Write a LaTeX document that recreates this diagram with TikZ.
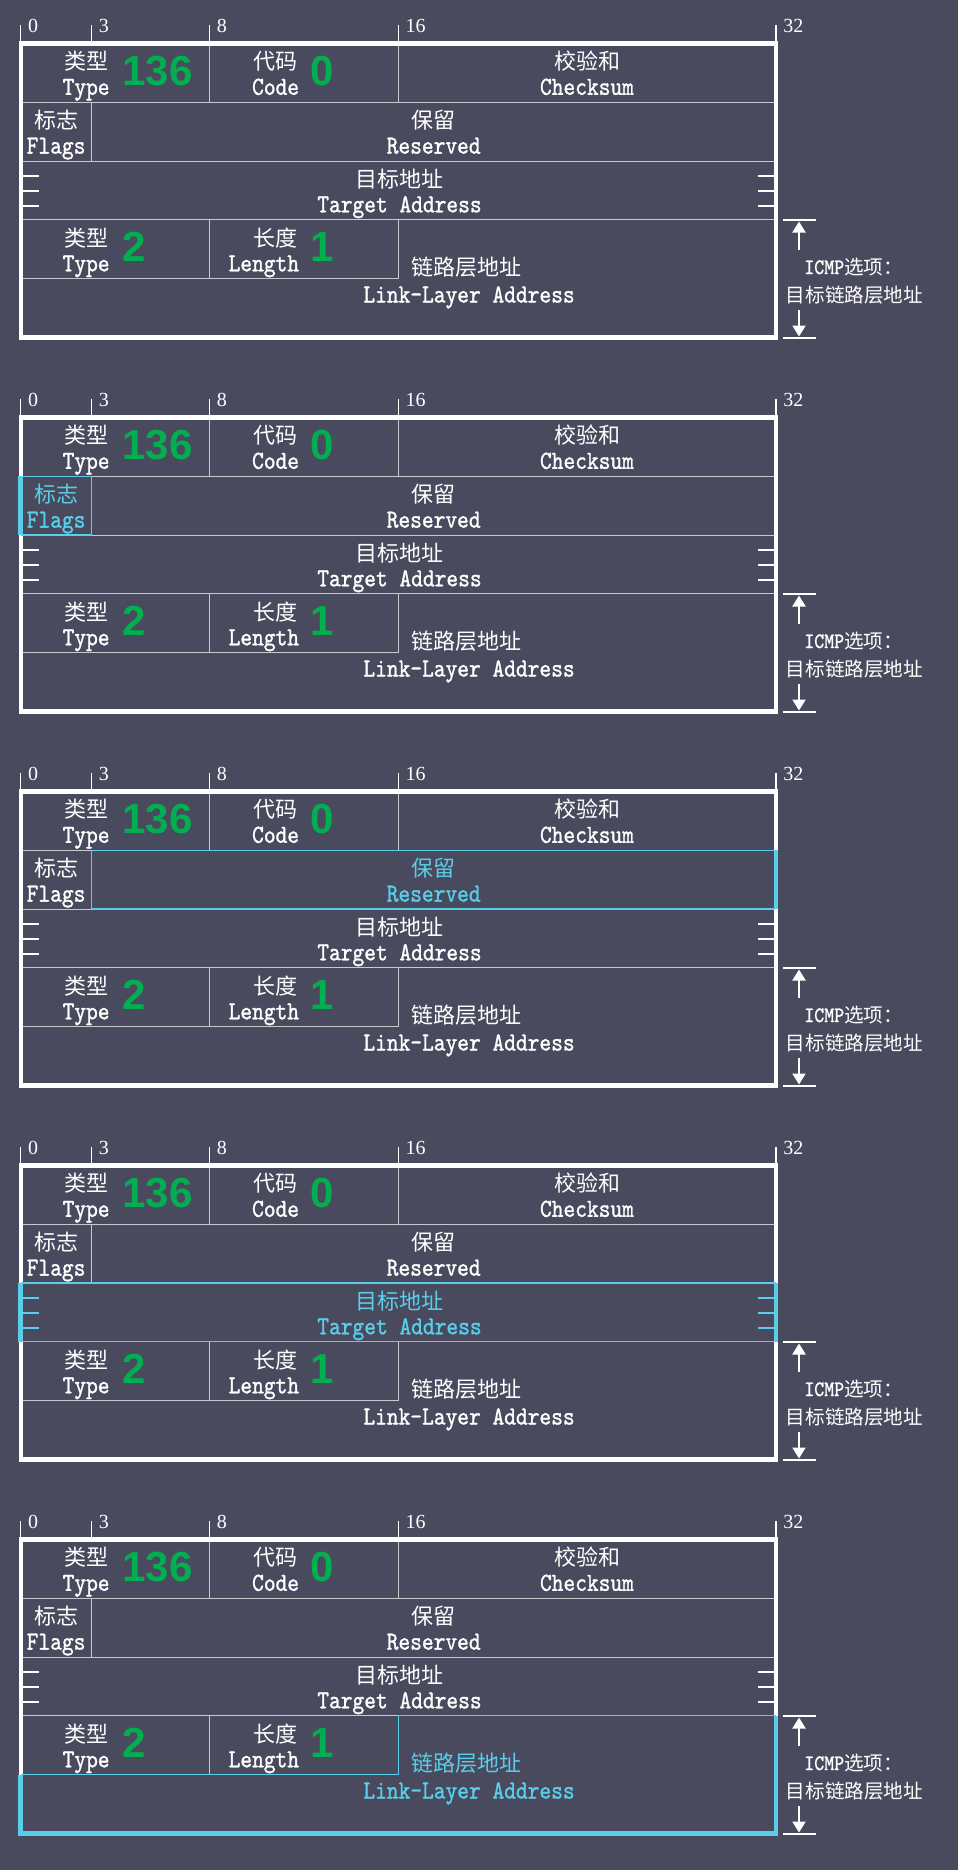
\documentclass[tikz,border=0pt]{standalone}
\usepackage{fontspec}
\usetikzlibrary{arrows.meta}
\newfontfamily\cjk{Noto Sans CJK SC}
\newfontfamily\latf{lmmono10-regular}[Extension=.otf,FakeStretch=0.86,FakeBold=1.2]
\newfontfamily\numf{Liberation Sans}
\newfontfamily\tickf{Liberation Serif}
\definecolor{bg}{RGB}{74,74,94}
\definecolor{gridc}{RGB}{200,200,205}
\definecolor{hl}{RGB}{88,206,232}
\definecolor{valc}{RGB}{0,176,80}
\tikzset{
  gridln/.style={draw=gridc, line width=0.5pt},
  framebox/.style={draw=white, line width=2.2pt, line join=miter},
  hlthin/.style={draw=hl, line width=0.6pt},
  hlthick/.style={draw=hl, line width=2.3pt},
  bittick/.style={draw=white, line width=0.6pt},
  sidemk/.style={line width=1pt},
  annot/.style={draw=white, line width=1pt},
  annotarrow/.style={draw=white, line width=1pt, -{Triangle[width=6.5pt,length=5.5pt]}},
  cn/.style={font=\cjk\fontsize{11}{13}\selectfont, inner sep=0pt, text=white},
  en/.style={font=\latf\fontsize{13}{15}\selectfont, inner sep=0pt, text=white},
  val/.style={font=\numf\bfseries\fontsize{21}{24}\selectfont, inner sep=0pt, text=valc, anchor=base west},
  bitlbl/.style={font=\tickf\fontsize{10}{12}\selectfont, inner sep=0pt, text=white, anchor=base west},
  side/.style={font=\cjk\fontsize{9.8}{12}\selectfont, inner sep=0pt, text=white, anchor=base},
}
\begin{document}
\begin{tikzpicture}[x=0.5pt,y=-0.5pt]
\fill[bg] (0,0) rectangle (958,1870);
\useasboundingbox (0,0) rectangle (958,1870);
\foreach \k in {0,...,4}{
  \pgfmathsetmacro\d{374*\k}
  \def\cF{white}\def\cR{white}\def\cT{white}\def\cL{white}
  \ifnum\k=1 \def\cF{hl}\fi
  \ifnum\k=2 \def\cR{hl}\fi
  \ifnum\k=3 \def\cT{hl}\fi
  \ifnum\k=4 \def\cL{hl}\fi
  \begin{scope}[shift={(0,\d)}]
    % bit ticks
    \foreach \x/\l in {20.7/0,91.5/3,209.5/8,398.3/16,775.9/32}{
      \draw[bittick] (\x,25) -- (\x,43.3);
      \node[bitlbl] (bit\k-\l) at (\x+7,32) {\l};
    }
    % thin grid
    \draw[gridln] (20.7,102.15) -- (775.9,102.15)
                  (20.7,161) -- (775.9,161)
                  (20.7,219.85) -- (775.9,219.85)
                  (20.7,278.7) -- (398.3,278.7)
                  (209.5,43.3) -- (209.5,102.15)
                  (398.3,43.3) -- (398.3,102.15)
                  (91.5,102.15) -- (91.5,161)
                  (209.5,219.85) -- (209.5,278.7)
                  (398.3,219.85) -- (398.3,278.7);
    % frame
    \draw[framebox] (20.7,43.3) rectangle (775.9,337.55);
    % side marks of target address row
    \foreach \yy in {175.7,190.7,205.7}{
      \draw[sidemk,draw=\cT] (22.5,\yy) -- (39,\yy) (758,\yy) -- (774,\yy);
    }
    % highlights
    \ifnum\k=1
      \draw[hlthin] (21.8,102.15) rectangle (91.5,161);
      \draw[hlthick] (20.7,102.15) -- (20.7,161);
    \fi
    \ifnum\k=2
      \draw[hlthin] (91.5,102.15) rectangle (774.8,161);
      \draw[hlthick] (775.9,102.15) -- (775.9,161);
    \fi
    \ifnum\k=3
      \draw[hlthin] (20.7,161) -- (775.9,161) (20.7,219.85) -- (775.9,219.85);
      \draw[hlthick] (20.7,161) -- (20.7,219.85) (775.9,161) -- (775.9,219.85);
    \fi
    \ifnum\k=4
      \draw[hlthin] (775.9,219.85) -- (398.3,219.85) -- (398.3,278.7) -- (20.7,278.7);
      \draw[hlthick, line join=miter] (20.7,278.7) -- (20.7,337.55) -- (775.9,337.55) -- (775.9,219.85);
    \fi
    % row 1
    \node[cn,anchor=base east] (tcn\k) at (108.5,69.8) {类型};
    \node[en,anchor=base east] (ten\k) at (110,94.8) {Type};
    \node[val] (tv\k) at (122,85) {136};
    \node[cn,anchor=base east] (ccn\k) at (298,69.8) {代码};
    \node[en,anchor=base east] (cen\k) at (299.5,94.8) {Code};
    \node[val] (cv\k) at (310,85) {0};
    \node[cn,anchor=base] (kcn\k) at (587,69.8) {校验和};
    \node[en,anchor=base] (ken\k) at (587,94.8) {Checksum};
    % row 2
    \node[cn,anchor=base,text=\cF] (fcn\k) at (56.1,128.6) {标志};
    \node[en,anchor=base,text=\cF] (fen\k) at (56.1,153.6) {Flags};
    \node[cn,anchor=base,text=\cR] (rcn\k) at (433.7,128.6) {保留};
    \node[en,anchor=base,text=\cR] (ren\k) at (433.7,153.6) {Reserved};
    % row 3
    \node[cn,anchor=base,text=\cT] (acn\k) at (399.5,187.5) {目标地址};
    \node[en,anchor=base,text=\cT] (aen\k) at (399.5,212.3) {Target Address};
    % row 4
    \node[cn,anchor=base east] (t2cn\k) at (108.5,246.3) {类型};
    \node[en,anchor=base east] (t2en\k) at (110,271.3) {Type};
    \node[val] (t2v\k) at (122,261.8) {2};
    \node[cn,anchor=base east] (lcn\k) at (298,246.3) {长度};
    \node[en,anchor=base east] (len\k) at (299.5,271.3) {Length};
    \node[val] (lv\k) at (310,261.8) {1};
    \node[cn,anchor=base west,text=\cL] (llcn\k) at (411,275) {链路层地址};
    \node[en,anchor=base west,text=\cL] (llen\k) at (363,302.5) {Link-Layer Address};
    % right annotation
    \draw[annot] (783,219.85) -- (816,219.85) (783,337.55) -- (816,337.55);
    \coordinate (au\k) at (799,221.5);
    \coordinate (ad\k) at (799,336.5);
    \draw[annotarrow] (799,250) -- (au\k);
    \draw[annotarrow] (799,310) -- (ad\k);
    \node[side,anchor=base west] (icmp\k) at (804,274) {{\latf\fontsize{11}{12}\selectfont ICMP}选项：};
    \node[side] (tlla\k) at (854.5,302.5) {目标链路层地址};
  \end{scope}
}
\end{tikzpicture}
\end{document}
